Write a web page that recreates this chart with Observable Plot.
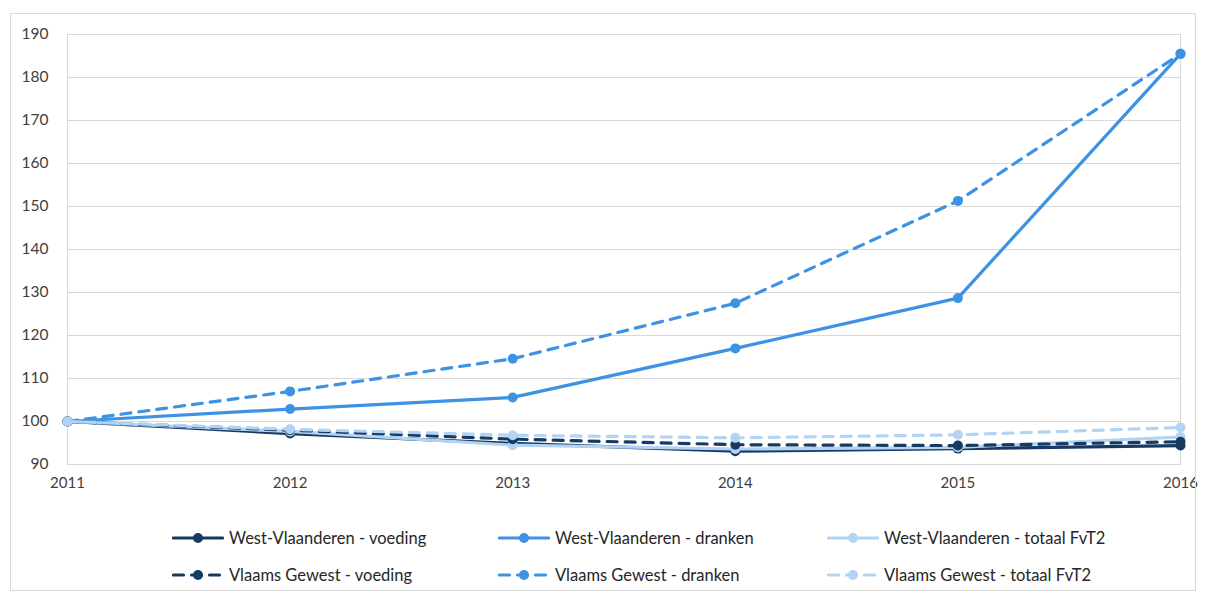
<!DOCTYPE html>
<html>
<head>
<meta charset="utf-8">
<script src="https://cdn.jsdelivr.net/npm/d3@7"></script>
<script src="https://cdn.jsdelivr.net/npm/@observablehq/plot@0.6"></script>
<style>
  html, body { margin: 0; padding: 0; background: #fff; }
  body { width: 1206px; height: 595px; position: relative; overflow: hidden; font-family: Lato, "Open Sans", sans-serif; }
  #frame { position: absolute; left: 10px; top: 13px; width: 1184px; height: 576px; border: 1px solid #d9d9d9; pointer-events: none; }
  #chart { position: absolute; left: 0; top: 0; }
  #legend { position: absolute; left: 0; top: 0; width: 1206px; height: 595px; pointer-events: none; }
  .item { position: absolute; display: flex; align-items: center; font-size: 16.5px; color: #262626; white-space: nowrap; }
  .item svg { margin-right: 5px; }
</style>
</head>
<body>
<div id="chart"></div>
<div id="legend"></div>
<div id="frame"></div>
<script>
const years = [2011, 2012, 2013, 2014, 2015, 2016];
const yTicks = [90, 100, 110, 120, 130, 140, 150, 160, 170, 180, 190];

const wvVoeding = [100, 97.2, 94.9, 93.1, 93.7, 94.4];
const wvDranken = [100, 102.9, 105.6, 117.0, 128.7, 185.5];
const wvTotaal  = [100, 97.7, 94.5, 93.6, 94.0, 96.4];
const vgVoeding = [100, 98.0, 95.9, 94.6, 94.4, 95.3];
const vgDranken = [100, 107.0, 114.6, 127.5, 151.3, 185.5];
const vgTotaal  = [100, 98.2, 96.8, 96.2, 96.9, 98.6];

const seriesNames = [
  "West-Vlaanderen - voeding",
  "West-Vlaanderen - dranken",
  "West-Vlaanderen - totaal FvT2",
  "Vlaams Gewest - voeding",
  "Vlaams Gewest - dranken",
  "Vlaams Gewest - totaal FvT2"
];
const seriesValues = [wvVoeding, wvDranken, wvTotaal, vgVoeding, vgDranken, vgTotaal];
const seriesColors = ["#173a63", "#3d92e3", "#b1d3f4", "#173a63", "#3d92e3", "#b1d3f4"];
const seriesDashed = [false, false, false, true, true, true];

const DASH = "10,8";

const series = seriesNames.map((name, i) => ({
  name,
  color: seriesColors[i],
  dashed: seriesDashed[i],
  data: years.map((year, j) => ({year, value: seriesValues[i][j], series: name}))
}));

const marks = [
  Plot.gridY(yTicks, {stroke: "#d9d9d9", strokeOpacity: 1, strokeWidth: 1}),
  Plot.frame({stroke: "#d9d9d9", strokeWidth: 1})
];
for (const s of series) {
  marks.push(Plot.line(s.data, {
    x: "year", y: "value", stroke: s.color, strokeWidth: 3.2,
    strokeDasharray: s.dashed ? DASH : null, strokeLinecap: "round", strokeLinejoin: "round"
  }));
  marks.push(Plot.dot(s.data, {x: "year", y: "value", fill: s.color, r: 5, stroke: "none"}));
}
marks.push(Plot.axisX(years, {tickSize: 0, tickPadding: 13, tickFormat: d => String(d), fontSize: 15, fill: "#404040", label: null}));
marks.push(Plot.axisY(yTicks, {tickSize: 0, tickPadding: 19, fontSize: 15.5, fill: "#404040", label: null}));

const chart = Plot.plot({
  width: 1206,
  height: 500,
  marginLeft: 67,
  marginRight: 26,
  marginTop: 34,
  marginBottom: 36,
  style: {fontFamily: "Lato, 'Open Sans', sans-serif", fontSize: "14px", background: "transparent", overflow: "visible"},
  x: {domain: [2011, 2016], label: null},
  y: {domain: [90, 190], label: null},
  marks
});
document.getElementById("chart").appendChild(chart);

// Legend
const legendCols = [172, 498, 827];
const legendRows = [538, 575];
const legend = d3.select("#legend");
series.forEach((s, i) => {
  const col = i % 3, row = Math.floor(i / 3);
  const item = legend.append("div").attr("class", "item")
    .style("left", legendCols[col] + "px")
    .style("top", (legendRows[row] - 10) + "px")
    .style("height", "20px");
  const sw = item.append("svg").attr("width", 52).attr("height", 20);
  sw.append("line")
    .attr("x1", 1.5).attr("x2", 50.5).attr("y1", 10).attr("y2", 10)
    .attr("stroke", s.color).attr("stroke-width", 3.2).attr("stroke-linecap", "round")
    .attr("stroke-dasharray", s.dashed ? DASH : null);
  sw.append("circle").attr("cx", 26).attr("cy", 10).attr("r", 5).attr("fill", s.color);
  item.append("span").text(s.name);
});
</script>
</body>
</html>
